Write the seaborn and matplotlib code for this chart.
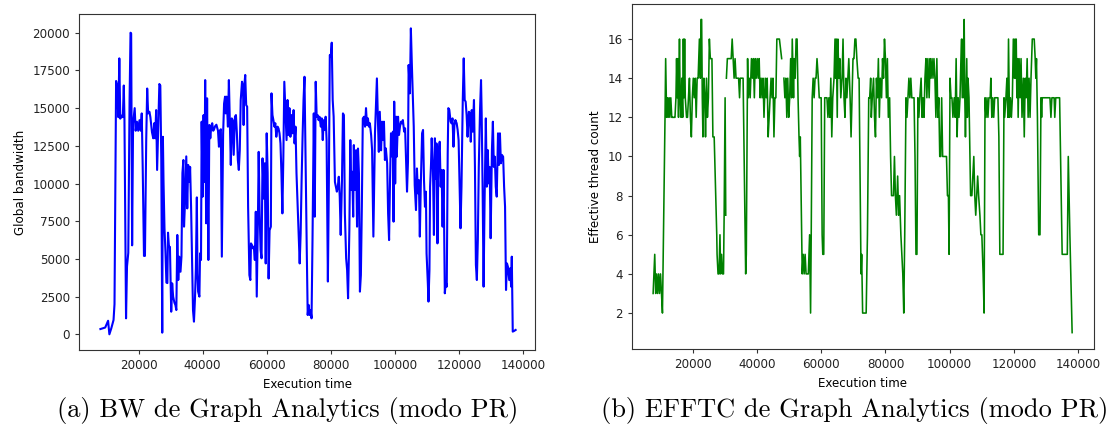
import numpy as np
import pandas as pd
import matplotlib
matplotlib.use("Agg")
import matplotlib.pyplot as plt
import seaborn as sns

# ---------------- data: (a) global bandwidth ----------------
bw_time = [
    8100, 8900, 9600, 10100, 10500, 10900, 11500, 12200, 12500, 13000, 13300, 13700, 14000, 14300, 14700,
    15100, 15400, 15600, 16100, 16400, 16800, 17200, 17500, 17700, 18000, 18300, 18800, 19100, 19500, 19900,
    20300, 20700, 21000, 21300, 21700, 22000, 22400, 22700, 23000, 23400, 23700, 24200, 24600, 24900, 25200,
    25500, 25800, 26100, 26500, 26800, 27100, 27400, 27600, 27800, 28100, 28400, 28700, 29000, 29200, 29500,
    29800, 30200, 30500, 30800, 31200, 31500, 31800, 32100, 32400, 32700, 33100, 33400, 33700, 34000, 34200,
    34500, 34900, 35200, 35500, 35900, 36100, 36400, 36700, 37000, 37300, 37600, 37900, 38200, 38400, 38600,
    39000, 39200, 39500, 39700, 40000, 40300, 40600, 40800, 41100, 41400, 41800, 42100, 42400, 42700, 43000,
    43300, 43600, 43900, 44300, 44800, 45100, 45400, 45700, 46000, 46400, 46700, 47000,
    47200, 47500, 47900, 48200, 48500, 48800, 49100, 49400, 49700, 50100, 50400, 50700, 51000, 51300, 51600,
    51900, 52300, 52600, 52800, 53000, 53300, 53600, 53900, 54200, 54600, 54900, 55100, 55400, 55700, 56000,
    56300, 56600, 56900, 57300, 57500, 57800, 58100, 58400, 58700, 59100, 59400, 59700, 60000, 60300, 60600,
    60900, 61300, 61500, 61800, 62100, 62400, 62700, 63000, 63400, 63700, 64000, 64300, 64600, 64900, 65200,
    65500, 65900, 66200, 66500, 66800, 67100, 67400, 67700, 68100, 68400, 68700, 69000, 69300, 69600, 69900,
    70300, 70600, 70900, 71200, 71500, 71800, 72100, 72500, 72800, 73100, 73400, 73700, 74000, 74300, 74700,
    75000, 75300, 75600, 75900, 76200, 76500, 76900, 77200, 77500, 77800, 78100, 78400, 78700, 79100, 79400,
    79700, 80000, 80300, 80600, 80900, 81300, 81600, 81900, 82200, 82500, 82800, 83100, 83500, 83800, 84100,
    84400, 84800, 85100, 85400, 85800, 86100, 86400, 86700, 87000, 87200, 87500, 87900, 88200, 88500, 88800,
    89100, 89400, 89700, 90000, 90400, 90700, 91000, 91300, 91600, 91900, 92200, 92600, 92900, 93300, 93800,
    94400, 94700, 95000, 95300, 95700, 96000, 96300, 96600, 96900, 97200, 97600, 97900, 98200, 98500, 98800,
    99200, 99400, 99600, 99800, 100100, 100400, 100600, 101000, 101300, 101600, 101900, 102200, 102500, 102900,
    103200, 103500, 103800, 104100, 104300, 104700, 105000, 105300, 105600, 105900, 106200, 106600, 106900,
    107200, 107500, 107800, 108100, 108500, 108800, 109100, 109400, 109700, 109900, 110300, 110500, 110800,
    111000, 111300, 111500, 111900, 112200, 112500, 112800, 113000, 113300, 113600, 114000, 114300, 114600,
    114900, 115200, 115600, 115900, 116200, 116500, 116700, 117000, 117400, 117700, 118000, 118300, 118600,
    118900, 119300, 119600, 119900, 120200, 120500, 120800, 121200, 121500, 121800, 122100, 122400, 122700,
    123100, 123400, 123700, 124000, 124300, 124700, 125000, 125300, 125600, 125900, 126200, 126600, 126900,
    127100, 127400, 127700, 128000, 128400, 128700, 129000, 129300, 129600, 129900, 130300, 130600, 130900,
    131200, 131500, 131800, 132200, 132500, 132800, 133100, 133400, 133800, 134100, 134400, 134700, 135000,
    135300, 135700, 136000, 136300, 136500, 136800, 137200, 137700,
]
bw_value = [
    350, 400, 450, 700, 900, 0, 400, 950, 2000, 16800, 16500, 14400, 18300, 14300, 14500,
    14400, 16500, 14400, 1060, 4500, 5400, 15500, 20000, 19950, 5900, 14000, 15000, 13500, 14100, 13500,
    14200, 13500, 14650, 11100, 5200, 5200, 12900, 16300, 14650, 14760, 14400, 13400, 13000, 14000, 13000,
    14870, 10900, 13300, 16600, 16500, 11560, 110, 13100, 10100, 7030, 5480, 3430, 3400, 6740, 5810,
    5800, 1500, 3380, 2500, 2100, 1950, 1610, 6590, 3600, 5150, 4150, 5150, 10700, 11560, 7140,
    8700, 11800, 8350, 11230, 10100, 11100, 8460, 5150, 1600, 840, 2280, 4380, 9080, 4040, 2830,
    2500, 5370, 4930, 14100, 9130, 14540, 10100, 16860, 7360, 15650, 4930, 13880, 13000, 13800, 14000,
    13500, 13600, 13800, 13900, 13500, 12440, 13500, 13600, 5150, 13300, 15300, 15760,
    14650, 15760, 13770, 16860, 14000, 11230, 14320, 14200, 11900, 14430, 14540, 13330, 11560, 10900, 12200,
    15540, 16750, 16420, 13880, 16420, 17200, 15200, 15100, 8460, 3930, 3600, 6030, 5920, 5700, 5810,
    4930, 8130, 2500, 8240, 12100, 8020, 5590, 5040, 11670, 9000, 11340, 4700, 13330, 10700, 3700,
    6900, 7140, 15980, 14540, 14200, 13770, 14000, 13100, 13770, 13650, 13330, 12660, 10700, 8020, 11780,
    16750, 14430, 12880, 15540, 13220, 15000, 13100, 14540, 13330, 14870, 12660, 13770, 10700, 8900, 6900,
    4700, 6700, 10230, 13100, 15540, 17080, 12000, 5700, 1280, 1950, 1280, 1600, 1060, 6250, 14650,
    7800, 16750, 14430, 14540, 14200, 14430, 13770, 14320, 12880, 14200, 13550, 14430, 12880, 3500, 10000,
    18520, 18400, 19340, 15540, 14430, 10100, 9790, 9460, 9790, 10450, 9130, 6590, 10230, 14650, 14540,
    8020, 5040, 4270, 2390, 6900, 12880, 9570, 10780, 7800, 12550, 9570, 12210, 7140, 12320, 10670,
    2830, 3930, 8460, 14320, 14430, 13770, 15000, 13880, 14320, 13770, 14000, 13210, 12220, 6480, 13330,
    16970, 14320, 12100, 14760, 12200, 14100, 12880, 14100, 11560, 12330, 11340, 8020, 6250, 10230, 13330,
    11780, 13440, 7470, 15430, 10000, 14430, 11780, 14430, 13220, 13770, 14100, 13990, 14210, 13440,
    13660, 11560, 9460, 11450, 17860, 15980, 20290, 17970, 15980, 13770, 9900, 8240, 11000,
    9350, 10230, 6480, 9900, 13330, 13550, 10230, 8460, 9460, 5370, 3380, 2170, 4270,
    9790, 11340, 13000, 10900, 6590, 13000, 10340, 12660, 6030, 11780, 12770, 9790, 10900,
    7140, 10900, 2720, 3480, 3160, 12000, 15000, 14890, 14100, 13990, 14320, 12440, 13880,
    14210, 13990, 13550, 12880, 9790, 7030, 9790, 15540, 18300, 15540, 15430, 14540, 13100,
    14760, 14650, 12770, 14870, 13440, 15540, 11100, 4600, 3600, 6250, 11100, 14980, 16860,
    14650, 9570, 3160, 8700, 14320, 9790, 12220, 10010, 11100, 6370, 12220, 14100, 11100,
    11780, 9790, 9130, 13330, 11230, 13330, 11340, 11900, 11780, 9790, 8460, 2940, 4700,
    4480, 3600, 4380, 3160, 5150, 180, 220, 290,
]

# ---------------- data: (b) effective thread count (NaN = gap) ----------------
nan = float("nan")
tc_time = [
    7640, 7680, 7690, 7700, 8200, 8500, 8800, 9100, 9400, 9700, 10000, 10300, 10600, 11400, 11600, 11900,
    12200, 12400, 12700, 12900, 13200, 13500, 13800, 14200, 14500, 14800, 15000, 15200, 15400, 15600,
    15900, 16100, 16400, 16600, 16900, 17100, 17300, 17500, 17700, 18100, 18400, 18700, 19000, 19300,
    19600, 19900, 20200, 20500, 20800, 21100, 21400, 21700, 22100, 22400, 22600, 22800, 23000, 23200,
    23500, 23800, 24000, 24300, 24600, 24900, 25200, 25500, 26000, 26300, 26700, 27500, 27600, 27900,
    28200, 28500, 28700, 29000, 29300, 29600, 29800, 30100, 30300, 30400, 30500, 30800, 31200, 32000,
    32300, 32600, 32900, 33200, 33500, 33900, 34300, 34600, 34800, 35300, 35700, 36500, 36700, 37100,
    37300, 37600, 37900, 38300, 38600, 38900, 39200, 39500, 39800, 40100, 40400, 40700, 41000, 41300,
    41600, 41900, 42200, 42600, 42900, 43200, 43500, 43800, 44100, 44400, 44700, 45000, 45300, 45600,
    45900, 46200, 47000, 47700, 48000, 48400, 48700, 49000, 49300, 49600, 49900, 50200, 50500, 50800,
    51000, 51400, 51600, 51900, 52200, 52500, 52800, 53100, 53300, 53500, 54100, 54400, 54700, 55000,
    55300, 55600, 56000, 56400, 56700, 56900, 57200, 57500, 57800, 58100, 58400, 58700, 59100, 59400,
    59700, 60000, 60300, 60500, 60800, 61100, 61500, 61800, 62100, 62400, 62700, 63000, 63300, 63600,
    64000, 64300, 64500, 64700, 65000, 65200, 65500, 65800, 66100, 66500, 66800, 67100, 67400, 67700,
    68000, 68300, 68600, 69000, 69300, 69600, 69900, 70200, 70500, 70800, 71100, 71500, 71800, 72400,
    72600, 72900, 73300, 74000, 74400, 74800, 75100, 75400, 75600, 75900, 76300, 76600, 76900, 77200,
    77500, 77800, 78100, 78400, 78800, 79100, 79400, 79700, 80000, 80300, 80600, 80900, 81300, 81600,
    81900, 82200, 82500, 82800, 83100, 83400, 83800, 84100, 84400, 84800, 85400, 85700, 86000, 86400,
    86700, 87000, 87300, 87600, 87900, 88200, 88600, 88900, 89200, 89500, 89800, 90100, 90400, 90700,
    91100, 91400, 91700, 92000, 92300, 92600, 92900, 93200, 93600, 93900, 94200, 94500, 94800, 95100,
    95400, 95700, 96000, 96300, 96600, 96900, 97200, 97500, 97800, 98100, 98400, 98800, 99000, 99300,
    99600, 99800, 100100, 100400, 100700, 101000, 101400, 101700, 102000, 102300, 102600, 102900, 103200,
    103500, 103700, 103900, 104200, 104400, 104500, 104700, 104900, 105100, 105300, 105500, 105700, 106000,
    106200, 106500, 106900, 107200, 107500, 107800, 108100, 108400, 108700, 109000, 109400, 109700, 110000,
    110400, 110700, 111000, 111300, 111600, 111900, 112200, 112600, 112800, 113100, 113400, 113700, 114000,
    114300, 114600, 115000, 115300, 115600, 115900, 116600, 116900, 117100, 117500, 117800, 118100, 118300,
    118600, 118900, 119200, 119500, 119800, 120100, 120300, 120500, 120700, 120900, 121100, 121300, 121600,
    121900, 122200, 122500, 122900, 123200, 123500, 123800, 124100, 124400, 124700, 125000, 125300, 125700,
    126300, 126600, 126800, 127000, 127300, 127700, 128100, 128400, 128600, 128800, 129600, 130600, 131200,
    131500, 131800, 132500, 132700, 133000, 133800, 134200, 135000, 135800, 136600, 136900, 137400, 138100,
]
tc_value = [
    1, 1, nan, 3, 5, 3, 4, 3, 4, 3, 4, 3, 2, 12, 15, 12,
    13, 12, 13, 12, 13, 12, 12, 12, 12, 13, 15, 13, 15, 12,
    16, 13, 12, 14, 12, 16, 13, 16, 13, 12, 12, 13, 14, 12,
    11, 13, 14, 13, 14, 12, 14, 14, 16, 14, 17, 17, 13, 11,
    14, 13, 11, 14, 12, 13, 16, 15, 15, 11, 11, 6, 5, 4,
    4, 6, 4, 5, 4, 4, 7, 13, 7, nan, 14, 15, 15, 15,
    16, 15, 14, 15, 14, 14, 14, 13, 14, 14, 14, 4, 5, 15,
    13, 14, 13, 15, 14, 15, 13, 15, 14, 15, 14, 15, 13, 14,
    13, 14, 12, 14, 13, 14, 11, 12, 13, 14, 13, 14, 11, 13,
    13, 16, 16, 15, nan, 14, 13, 14, 12, 14, 12, 13, 15, 13,
    16, 13, 15, 14, 16, 16, 13, 11, 10, 11, 4, 5, 4, 5,
    4, 4, 4, 6, 2, 6, 13, 14, 13, 14, 14, 15, 14, 13,
    13, 13, 6, 5, 5, 13, 13, 13, 12, 13, 12, 14, 11, 13,
    14, 16, 14, 16, 12, 16, 14, 15, 13, 14, 16, 13, 12, 14,
    13, 14, 15, 13, 11, 13, 15, 15, 16, 16, 15, 14, 14, 4,
    5, 2, 2, 2, 6, 13, 13, 14, 12, 13, 14, 12, 11, 14,
    13, 15, 12, 14, 13, 15, 14, 16, 15, 13, 15, 12, 13, 10,
    8, 8, 8, 10, 8, 7, 9, 7, 8, 6, 4, 2, 6, 13,
    12, 13, 14, 13, 14, 13, 13, 13, 10, 5, 5, 13, 12, 13,
    14, 12, 13, 12, 14, 15, 13, 15, 13, 15, 14, 15, 14, 15,
    14, 12, 15, 12, 13, 10, 10, 13, 10, 10, 10, 10, 10, 8,
    8, 5, 14, 13, 13, 12, 13, 12, 15, 11, 13, 12, 13,
    15, 16, 13, 16, 13, 17, 13, 11, 13, 15, 12, 14, 13,
    11, 8, 8, 9, 10, 8, 7, 8, 9, 8, 7, 6, 6,
    4, 2, 13, 12, 13, 12, 13, 13, 14, 12, 13, 12, 13,
    13, 13, 13, 11, 5, 5, 5, 13, 12, 13, 14, 12, 16,
    12, 13, 12, 13, 16, 14, 16, 14, 16, 13, 15, 12, 15,
    13, 15, 12, 14, 11, 14, 13, 15, 12, 14, 12, 14, 16,
    16, 15, 14, 15, 12, 6, 6, 13, 12, 13, 13, 13, 13,
    12, 13, 13, 12, 13, 13, 13, 5, 5, 5, 10, 6, 1,
]

caption_a = "(a) BW de Graph Analytics (modo PR)"
caption_b = "(b) EFFTC de Graph Analytics (modo PR)"

# ---------------- figure ----------------
plt.rcParams["font.size"] = 8.6
plt.rcParams["xtick.major.size"] = 3
plt.rcParams["ytick.major.size"] = 3
plt.rcParams["axes.linewidth"] = 0.8
plt.rcParams["axes.edgecolor"] = "#333333"
plt.rcParams["xtick.color"] = "#333333"
plt.rcParams["ytick.color"] = "#333333"
plt.rcParams["xtick.labelcolor"] = "#222222"
plt.rcParams["ytick.labelcolor"] = "#222222"

fig = plt.figure(figsize=(11.07, 4.41), dpi=100)
ax1 = fig.add_axes([0.0716, 0.2063, 0.4117, 0.7619])
ax2 = fig.add_axes([0.5706, 0.2086, 0.4176, 0.7823])

df_bw = pd.DataFrame({"t": bw_time, "v": bw_value})
sns.lineplot(data=df_bw, x="t", y="v", ax=ax1, color="blue", linewidth=1.5,
             estimator=None, sort=False)
ax1.set_xlim(1500, 143750)
ax1.set_ylim(-1041, 21240)
ax1.set_xticks([20000, 40000, 60000, 80000, 100000, 120000, 140000])
ax1.set_yticks(np.arange(0, 20001, 2500))
ax1.set_xlabel("Execution time")
ax1.set_ylabel("Global bandwidth")

df_tc = pd.DataFrame({"t": tc_time, "v": tc_value})
df_tc["seg"] = df_tc["v"].isna().cumsum()
df_tc = df_tc.dropna()
sns.lineplot(data=df_tc, x="t", y="v", units="seg", estimator=None, ax=ax2,
             color="green", linewidth=1.15, sort=False)
ax2.set_xlim(1017, 144886)
ax2.set_ylim(0.163, 17.79)
ax2.set_xticks([20000, 40000, 60000, 80000, 100000, 120000, 140000])
ax2.set_yticks([2, 4, 6, 8, 10, 12, 14, 16])
ax2.set_xlabel("Execution time")
ax2.set_ylabel("Effective thread count")

fig.text(288 / 1107, 1 - 411 / 441, caption_a, ha="center", va="center",
         fontfamily="cmr10", fontsize=19)
fig.text(601 / 1107, 1 - 411 / 441, caption_b, ha="left", va="center",
         fontfamily="cmr10", fontsize=19)

fig.savefig("out.png", dpi=100)
